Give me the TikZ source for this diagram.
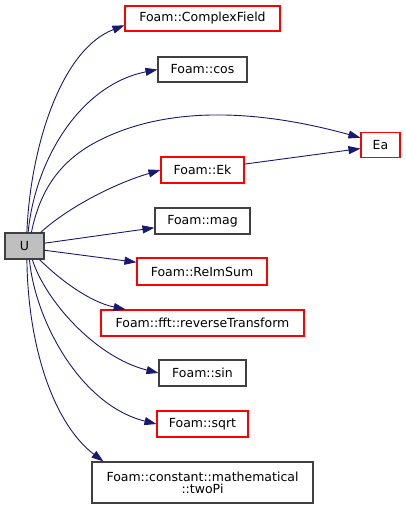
\documentclass[tikz,border=0pt]{standalone}
\usepackage{fontspec}
\setmainfont{DejaVu Sans}
\usetikzlibrary{positioning,arrows.meta}
\definecolor{edgeblue}{RGB}{25,25,112}
\definecolor{linkred}{RGB}{255,0,0}
\tikzset{
  fnbox/.style   = {draw=black!75, line width=1.1pt, inner sep=0pt, align=center,
                    minimum height=26pt, font=\fontsize{12.5}{14}\selectfont},
  fnred/.style   = {fnbox, draw=linkred},
  fnroot/.style  = {fnbox, fill=black!25},
  call/.style    = {-{Triangle[length=12pt,width=8pt]}, edgeblue, line width=0.9pt},
}
\begin{document}
\begin{tikzpicture}[x=1pt, y=-1pt]
  \useasboundingbox (0,0) rectangle (405,509);
  \node[fnroot, minimum width=39pt] (u) at (24.5,246) {U};
  \node[fnred, minimum width=155pt, minimum height=25pt] (cfield) at (202.5,18.5) {Foam::ComplexField};
  \node[fnbox, minimum width=89pt, minimum height=25pt] (cos) at (202.5,69.5) {Foam::cos};
  \node[fnred, minimum width=39pt, minimum height=25pt] (ea) at (380.5,145) {Ea};
  \node[fnred, minimum width=83pt] (ek) at (202.5,170) {Foam::Ek};
  \node[fnbox, minimum width=95pt] (mag) at (202.5,221) {Foam::mag};
  \node[fnred, minimum width=130pt, minimum height=27pt] (reimsum) at (202,271.5) {Foam::ReImSum};
  \node[fnred, minimum width=203pt] (revtr) at (202.5,323) {Foam::fft::reverseTransform};
  \node[fnbox, minimum width=87pt] (sin) at (202.5,373) {Foam::sin};
  \node[fnred, minimum width=91pt] (sqrt) at (202.5,424) {Foam::sqrt};
  \node[fnbox, minimum width=221pt, minimum height=41pt] (twopi) at (202.5,482.5)
    {Foam::constant::mathematical\\[-2pt]::twoPi};

  % calls from U
  \draw[call] (u.80) .. controls (30,150) and (60,50) .. (cfield.185);
  \draw[call] (u.75) .. controls (35,160) and (80,85) .. (cos.west);
  \draw[call] (u.63) .. controls (40,190) and (60,160) .. (100,140)
                     .. controls (170,105) and (260,110) .. (ea.160);
  \draw[call] (u.40) .. controls (65,210) and (110,185) .. (ek.west);
  \draw[call] (ek.8) -- (ea.190);
  \draw[call] (u.8) -- (mag.188);
  \draw[call] (u.-12) -- (reimsum.172);
  \draw[call] (u.-42) .. controls (60,280) and (90,302) .. (revtr.170);
  \draw[call] (u.-60) .. controls (45,300) and (95,357) .. (sin.west);
  \draw[call] (u.-70) .. controls (35,320) and (80,405) .. (sqrt.west);
  \draw[call] (u.-80) .. controls (28,350) and (55,425) .. (twopi.168);
\end{tikzpicture}
\end{document}
